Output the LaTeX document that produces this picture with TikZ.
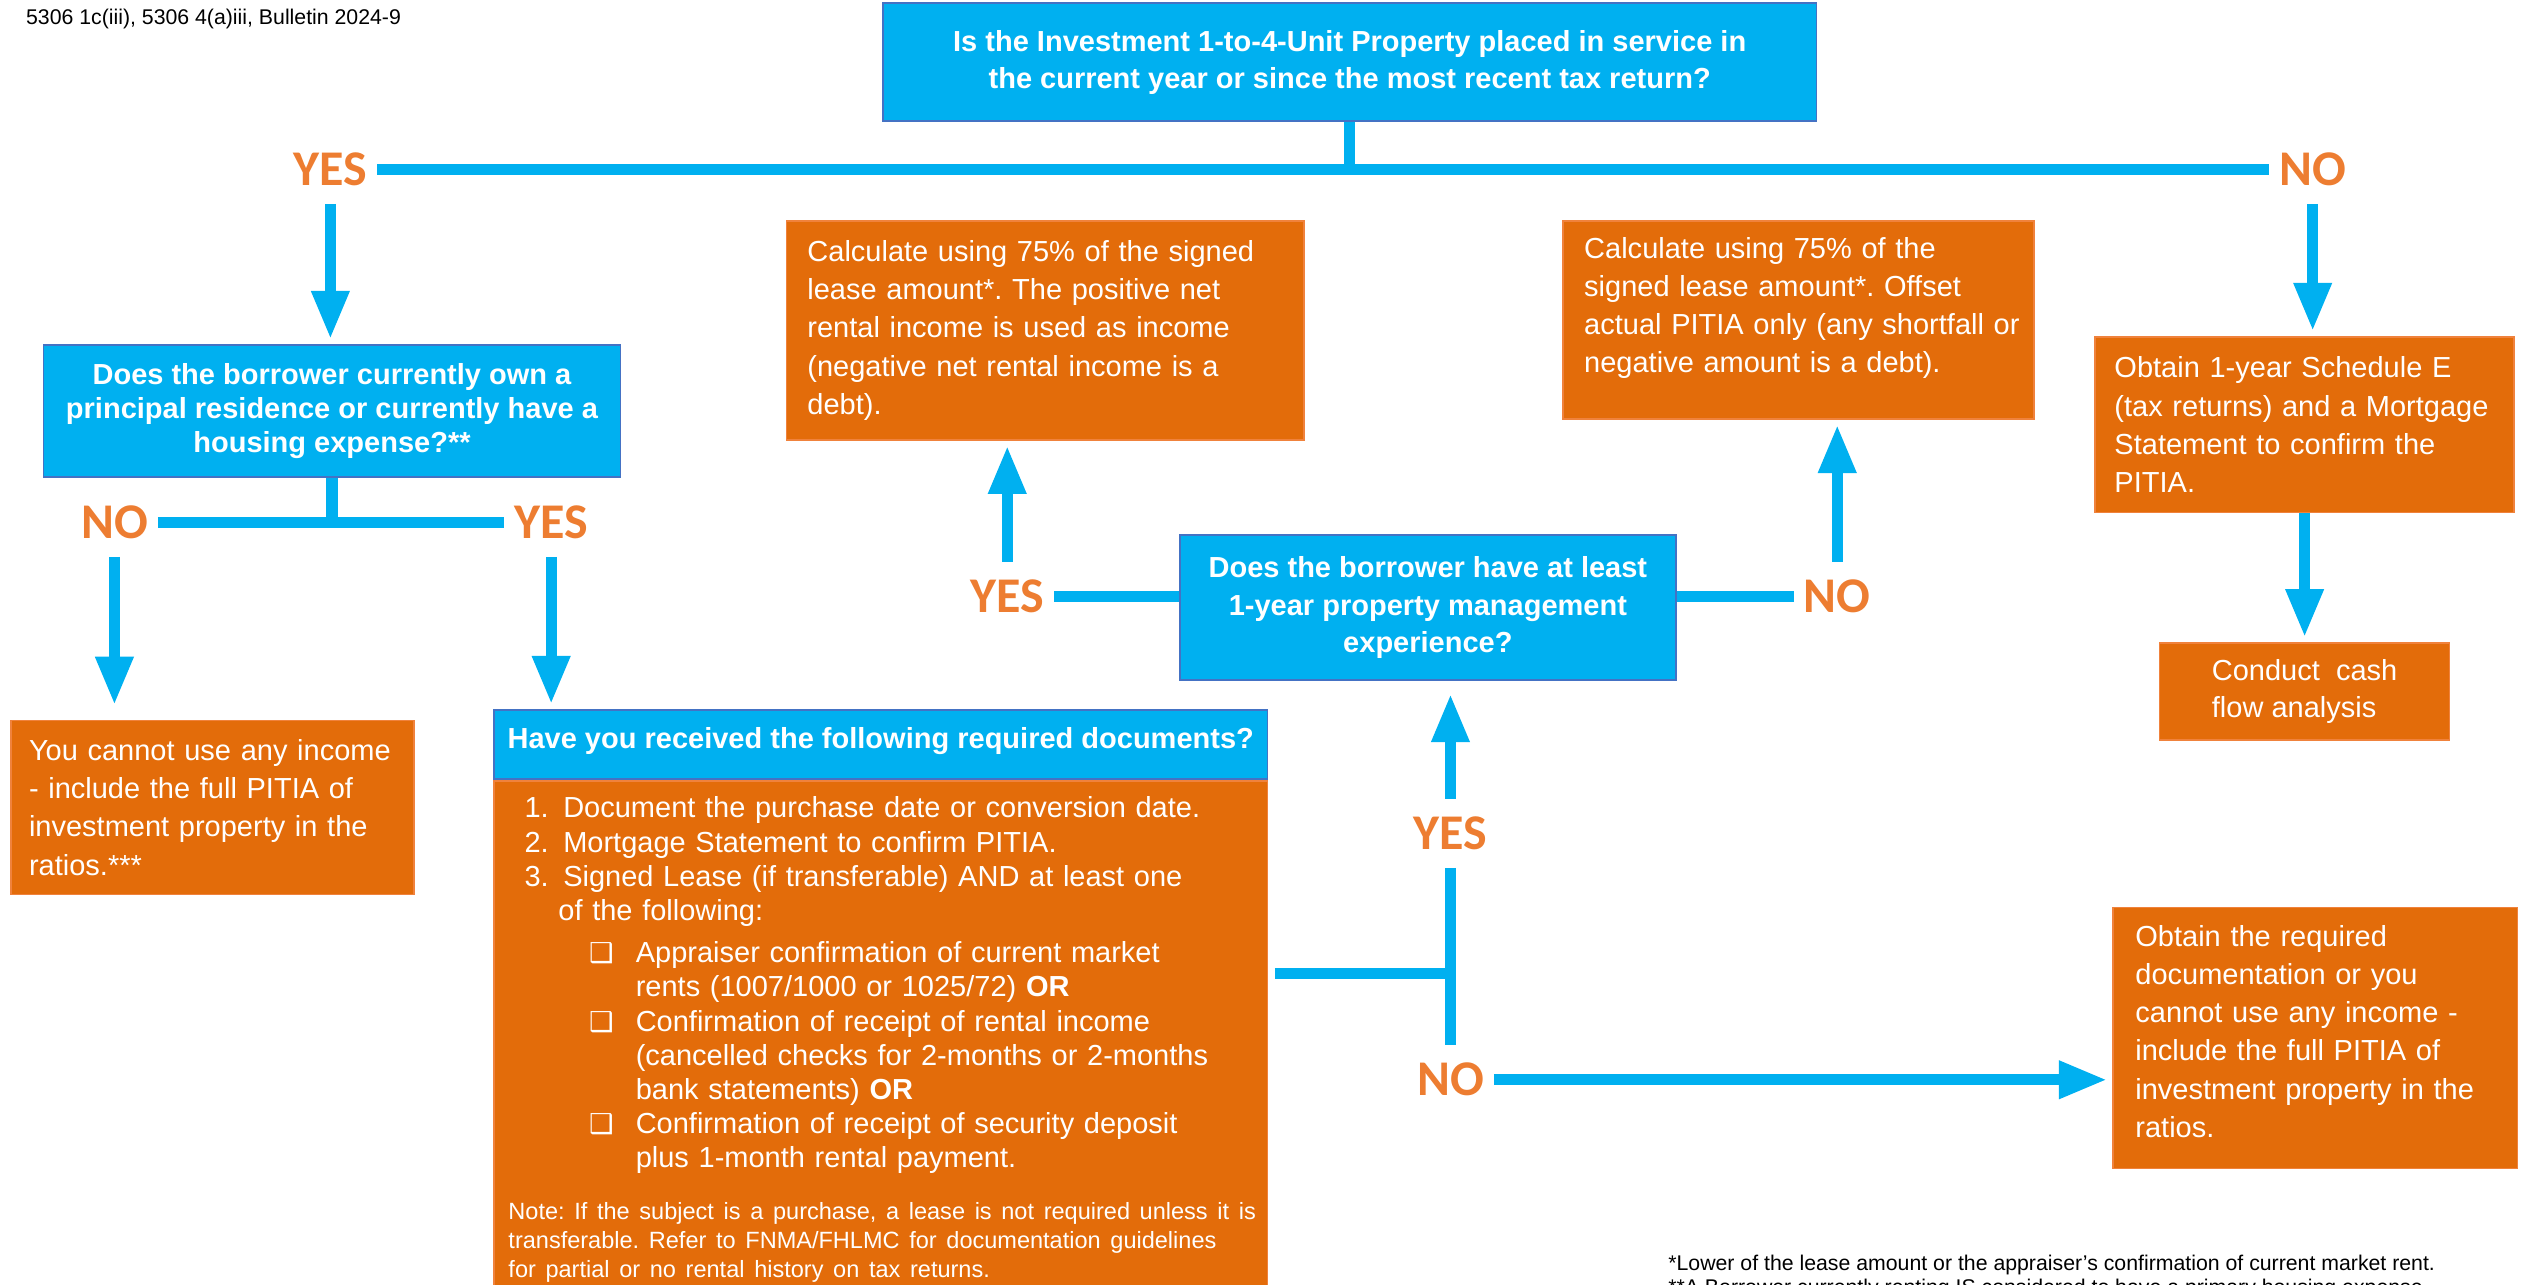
\documentclass[tikz,border=0pt]{standalone}
\usepackage{fontspec}
\setmainfont{Liberation Sans}
\newfontfamily\ynfont{Carlito}
\newfontfamily\symfont{DejaVu Sans}
\usetikzlibrary{arrows.meta, positioning}
\setlength{\parindent}{0pt}
\frenchspacing
\definecolor{qblue}{RGB}{0,176,240}
\definecolor{qedge}{RGB}{68,114,196}
\definecolor{aorange}{RGB}{227,108,10}
\definecolor{aedge}{RGB}{240,130,60}
\definecolor{ynorange}{RGB}{237,125,49}
\newcommand{\boxmark}{{\symfont\fontsize{17}{17}\selectfont ❑}}
\tikzset{
  qbox/.style={rectangle, draw=qedge, line width=1pt, fill=qblue,
               text=white, align=center, inner sep=0pt,
               font=\fontsize{18}{23}\selectfont\bfseries},
  abox/.style={rectangle, draw=aedge, line width=1pt, fill=aorange,
               text=white, align=left, inner xsep=13pt, inner ysep=0pt,
               font=\fontsize{18}{23.7}\selectfont},
  yn/.style={text=ynorange, inner xsep=6pt, inner ysep=11pt,
             font=\ynfont\bfseries\fontsize{31}{31}\selectfont},
  link/.style={draw=qblue, line width=7pt},
  flow/.style={link, -{Triangle[length=30pt, width=22pt]}, shorten >=3pt},
  note/.style={anchor=west, inner sep=0pt, font=\fontsize{13.2}{16}\selectfont},
}

\begin{document}
\begin{tikzpicture}[x=1pt, y=-1pt]
\useasboundingbox (0,0) rectangle (1568,797);
\clip (0,0) rectangle (1568,797);

\node[note] (src) at (16,12) {5306 1c(iii), 5306 4(a)iii, Bulletin 2024-9};

% questions
\node[qbox, minimum width=579pt, minimum height=73pt] (q1) at (837.5,38.5)
  {Is the Investment 1-to-4-Unit Property placed in service in\\
   the current year or since the most recent tax return?};
\node[qbox, minimum width=358pt, minimum height=82pt,
      font=\fontsize{18}{21}\selectfont\bfseries] (q2) at (206,255)
  {Does the borrower currently own a\\
   principal residence or currently have a\\
   housing expense?**};
\node[qbox, minimum width=308pt, minimum height=90pt,
      font=\fontsize{18}{23.5}\selectfont\bfseries] (q4) at (886,377)
  {Does the borrower have at least\\
   1-year property management\\
   experience?};
\node[qbox, minimum width=480pt, minimum height=43pt, text height=13pt, text depth=8pt,
      anchor=north west] (docq) at (306,440)
  {Have you received the following required documents?};
\node[abox, below=0pt of docq, text width=462pt, inner xsep=9pt, inner ysep=10pt,
      font=\fontsize{18}{21.2}\selectfont] (docs)
  {\hspace*{10pt}\makebox[24pt][l]{1.}Document the purchase date or conversion date.\\
   \hspace*{10pt}\makebox[24pt][l]{2.}Mortgage Statement to confirm PITIA.\\
   \hspace*{10pt}\makebox[24pt][l]{3.}Signed Lease (if transferable) AND at least one\\
   \hspace*{31pt}of the following:\\[5pt]
   \hspace*{50pt}\makebox[29pt][l]{\boxmark}Appraiser confirmation of current market\\
   \hspace*{79pt}rents (1007/1000 or 1025/72) \textbf{OR}\\
   \hspace*{50pt}\makebox[29pt][l]{\boxmark}Confirmation of receipt of rental income\\
   \hspace*{79pt}(cancelled checks for 2-months or 2-months\\
   \hspace*{79pt}bank statements) \textbf{OR}\\
   \hspace*{50pt}\makebox[29pt][l]{\boxmark}Confirmation of receipt of security deposit\\
   \hspace*{79pt}plus 1-month rental payment.\par
   \vspace{14pt}
   {\fontsize{14.6}{18}\selectfont
   \mbox{Note: If the subject is a purchase, a lease is not required unless it is}\\
   \mbox{transferable. Refer to FNMA/FHLMC for documentation guidelines}\\
   \mbox{for partial or no rental history on tax returns.}\par}};

% answers
\node[abox, text width=295pt, minimum height=136pt] (calca) at (648.5,205)
  {Calculate using 75\% of the signed\\
   lease amount*. The positive net\\
   rental income is used as income\\
   (negative net rental income is a\\
   debt).};
\node[abox, text width=276pt, inner xsep=8pt, minimum height=123pt] (calcb) at (1116,198.5)
  {\hspace*{5pt}Calculate using 75\% of the\\
   \hspace*{5pt}signed lease amount*. Offset\\
   \hspace*{5pt}actual PITIA only (any shortfall or\\
   \hspace*{5pt}negative amount is a debt).\par\vspace*{15pt}};
\node[abox, text width=236pt, inner xsep=12pt, minimum height=109pt] (sched) at (1430,263.5)
  {Obtain 1-year Schedule E\\
   (tax returns) and a Mortgage\\
   Statement to confirm the\\
   PITIA.};
\node[abox, minimum width=180pt, minimum height=60pt,
      font=\fontsize{18}{23}\selectfont] (cash) at (1430,429)
  {Conduct\ \ cash\\
   flow analysis};
\node[abox, text width=228pt, inner xsep=11pt, minimum height=108pt] (nouse) at (132,501)
  {You cannot use any income\\
   - include the full PITIA of\\
   investment property in the\\
   ratios.***};
\node[abox, text width=223pt, inner xsep=14pt, minimum height=162pt] (obtain) at (1436.5,644)
  {Obtain the required\\
   documentation or you\\
   cannot use any income -\\
   include the full PITIA of\\
   investment property in the\\
   ratios.\par\vspace*{8pt}};

% yes / no
\node[yn] (yes1) at (205,105) {YES};
\node[yn] (no1) at (1435,105) {NO};
\node[yn] (no2) at (71,324) {NO};
\node[yn] (yes2) at (342,324) {YES};
\node[yn] (yes4) at (625,370) {YES};
\node[yn] (no4) at (1140,370) {NO};
\node[yn] (yes3) at (900,517) {YES};
\node[yn] (no3) at (900,670) {NO};

% connectors
\draw[link] (q1) -- (q1 |- yes1);
\draw[link] (yes1) -- (no1);
\draw[flow] (yes1) -- (yes1 |- q2.north);
\draw[flow] (no1) -- (no1 |- sched.north);
\draw[flow] (sched) -- (cash);

\draw[link] (q2) -- (q2 |- no2);
\draw[link] (no2) -- (yes2);
\draw[flow, shorten >=9pt] (no2) -- (no2 |- nouse.north);
\draw[flow] (yes2) -- (yes2 |- docq.north);

\coordinate (j3) at (898,604);
\draw[link, shorten <=4pt] (docs.east |- j3) -- (j3);
\draw[link] (yes3) -- (no3);
\draw[flow, shorten >=8pt] (yes3) -- (yes3 |- q4.south);
\draw[flow] (no3) -- (no3 -| obtain.west);

\draw[link] (q4.west |- yes4) -- (yes4);
\draw[link] (q4.east |- no4) -- (no4);
\draw[flow] (yes4) -- (yes4 |- calca.south);
\draw[flow] (no4) -- (no4 |- calcb.south);

% footnotes
\node[note] (fn1) at (1035,785) {*Lower of the lease amount or the appraiser’s confirmation of current market rent.};
\node[note] (fn2) at (1035,800) {**A Borrower currently renting IS considered to have a primary housing expense.};
\end{tikzpicture}
\end{document}
